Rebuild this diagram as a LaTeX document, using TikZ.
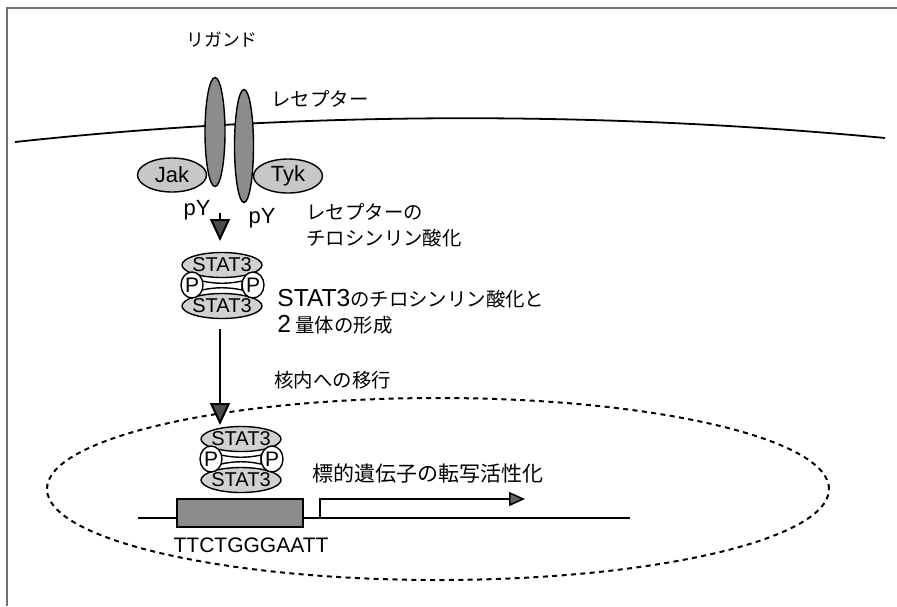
\documentclass[tikz,border=0pt]{standalone}
\usepackage{fontspec}
\setmainfont{Liberation Sans}
\newfontfamily\jpfont{Noto Sans CJK JP}
\usetikzlibrary{positioning, arrows.meta, shapes.geometric, calc}

% latin words set inside the japanese labels
\newcommand{\latword}[1]{{\rmfamily\fontsize{12.3}{12.5}\selectfont #1}}

\tikzset{
    receptor/.style={ellipse, draw, line width=0.7pt, fill=black!45, inner sep=0pt},
    kinase/.style={ellipse, draw, line width=0.7pt, fill=black!22, inner sep=0pt,
        minimum width=34.5pt, minimum height=17pt, font=\fontsize{11}{12}\selectfont},
    statell/.style={ellipse, draw, line width=0.7pt, fill=black!18, inner sep=0pt,
        minimum width=40pt, minimum height=12.5pt},
    statname/.style={inner sep=0pt, font=\fontsize{10}{10}\selectfont},
    phos/.style={ellipse, draw, line width=0.7pt, fill=white, inner sep=0pt,
        minimum width=11pt, minimum height=13pt, font=\fontsize{10.5}{10}\selectfont},
    jlabel/.style={font=\jpfont\fontsize{9.7}{12.8}\selectfont, anchor=west, align=left, inner sep=0pt},
    signal/.style={-{Triangle[width=10pt, length=11pt, fill=black!70]}, line width=1pt},
    % phosphorylated STAT3 dimer
    dimer/.pic={
        \node[statell] (-top) at (0,-20) {};
        \node[statell] (-bot) at (0,21) {};
        \draw[line width=0.7pt, fill=white] (-20,-4) .. controls (-6,-1) and (6,-1) .. (20,-4)
            -- (20,5) .. controls (6,2) and (-6,2) .. (-20,5) -- cycle;
        \node[phos] (-pl) at (-30,0) {P};
        \node[phos] (-pr) at (31,0) {P};
        \node[statname] (-ntop) at (0,-20) {STAT3};
        \node[statname] (-nbot) at (0,21) {STAT3};
    }
}

\begin{document}
\begin{tikzpicture}[x=0.5pt, y=-0.5pt]
    \useasboundingbox (0,0) rectangle (897,606);

    % frame
    \draw[black!55, line width=0.6pt] (7,606) -- (7,8) -- (897,8);

    % nucleus
    \node[ellipse, draw, line width=1pt, dash pattern=on 2.5pt off 2.2pt,
        minimum width=391pt, minimum height=91pt] (nucleus) at (438,489) {};

    % cell membrane
    \draw[line width=0.9pt] (15,142) .. controls (300,111) and (600,111) .. (885,138);

    % receptor with kinases
    \node[kinase] (jak) at (172,175) {Jak};
    \node[kinase] (tyk) at (288,176) {Tyk};
    \node[receptor, minimum width=10pt, minimum height=54.5pt] (recL) at (215,132) {};
    \node[receptor, minimum width=9.5pt, minimum height=56.5pt] (recR) at (244,146) {};

    \node[font=\jpfont\fontsize{8.9}{10}\selectfont] (ligand) at (222,40) {リガンド};
    \node[jlabel] (reclabel) at (271,99) {レセプター};

    \node[font=\fontsize{11}{12}\selectfont] (pyL) at (197,210) {pY};
    \node[font=\fontsize{11}{12}\selectfont] (pyR) at (262,218) {pY};
    \node[jlabel] (phlabel) at (306,225) {レセプターの\\チロシンリン酸化};

    % dimer in the cytoplasm
    \coordinate (a1s) at (220,213);
    \coordinate (a1e) at (220,241);
    \draw[signal] (a1s) -- (a1e);
    \pic (d1) at (222,285) {dimer};
    \node[jlabel] (dimlabel) at (277,312) {\latword{STAT3}のチロシンリン酸化と\\\latword{2} 量体の形成};

    % translocation
    \coordinate (a2s) at (220,329);
    \coordinate (a2e) at (220,425);
    \draw[signal] (a2s) -- (a2e);
    \node[jlabel] (movlabel) at (274,380) {核内への移行};

    % promoter and target gene
    \coordinate (dnaL) at (138,518);
    \coordinate (dnaR) at (630,518);
    \draw[line width=1pt] (dnaL) -- (dnaR);
    \node[draw, line width=0.7pt, fill=black!45, minimum width=63pt, minimum height=14pt,
        inner sep=0pt] (site) at (240,513) {};
    \node[font=\fontsize{10.5}{12}\selectfont] (seq) at (251,545) {TTCTGGGAATT};
    \pic (d2) at (241,459) {dimer};

    \coordinate (tss) at (320,518);
    \coordinate (txend) at (525,499);
    \draw[line width=0.8pt, -{Triangle[width=7pt, length=8pt, fill=black!60]}] (tss) |- (txend);
    \node[jlabel, font=\jpfont\fontsize{10.5}{13}\selectfont] (txlabel) at (312,473) {標的遺伝子の転写活性化};
\end{tikzpicture}
\end{document}
